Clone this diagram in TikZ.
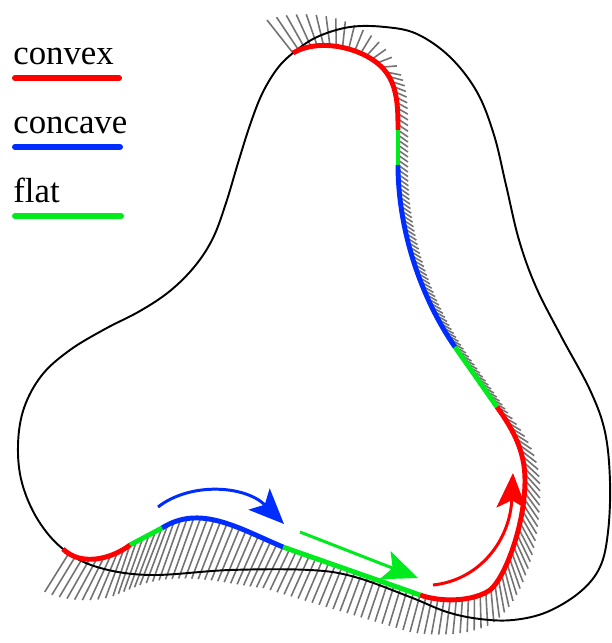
\documentclass[tikz,border=0pt]{standalone}
\usepackage{fontspec}
\setmainfont{Liberation Serif}
\usetikzlibrary{decorations.markings, arrows.meta}

\definecolor{cvx}{RGB}{255,0,0}
\definecolor{ccv}{RGB}{0,45,255}
\definecolor{flt}{RGB}{0,235,30}

\tikzset{
  rim/.style={line width=2.8pt},
  hull/.style={line width=1.1pt},
  hatch/.style={draw=black!55, line width=0.9pt},
  hmark/.style 2 args={decorate, decoration={markings,
      mark=between positions 0 and 1 step #2 with
        {\coordinate (#1-\pgfkeysvalueof{/pgf/decoration/mark info/sequence number});}}},
  legtext/.style={inner sep=0pt, anchor=base west, font=\fontsize{19.8}{23}\selectfont},
  legbar/.style={line width=3.4pt, line cap=round},
  sweep/.style={line width=1.7pt, -{Stealth[length=20pt, width=17pt, inset=4.5pt]}},
}

% boundary pieces: name/colour/curve/hatch ends/strokes
\newcommand\pieces{%
  pa/cvx/{(293,53) .. controls (322,36) and (370,50) .. (386,72)}/{(267,20) .. controls (300,8) and (375,10) .. (401,75)}/16,%
  pb/cvx/{(386,72) .. controls (398,88) and (398,110) .. (398,130)}/{(401,75) .. controls (408,90) and (408,112) .. (408,137)}/11,%
  pc/flt/{(398,130) -- (398,165)}/{(408,137) -- (408,172)}/7,%
  pd/ccv/{(398,165) .. controls (398,230) and (421,298) .. (455,347)}/{(408,172) .. controls (408,236) and (432,303) .. (466,353)}/42,%
  pe/flt/{(455,347) -- (497,407)}/{(466,353) -- (508,413)}/15,%
  pf/cvx/{(497,407) .. controls (512,428) and (525,450) .. (525,480) .. controls (525,525) and (505,578) .. (490,590) .. controls (474,601) and (443,603) .. (420,595)}/{(508,413) .. controls (525,435) and (540,455) .. (540,490) .. controls (540,560) and (515,615) .. (485,627) .. controls (462,636) and (430,636) .. (410,632)}/44,%
  pg/flt/{(420,595) -- (283,547)}/{(410,632) -- (263,588)}/21,%
  ph/ccv/{(283,547) .. controls (238,528) and (200,504) .. (162,528)}/{(263,588) .. controls (230,585) and (185,570) .. (140,585)}/19,%
  pk/flt/{(162,528) -- (130,545)}/{(140,585) -- (113,596)}/5,%
  pm/cvx/{(130,545) .. controls (110,560) and (80,566) .. (63,549)}/{(113,596) .. controls (90,604) and (55,600) .. (38,588)}/10}

\begin{document}
\begin{tikzpicture}[x=0.2mm, y=-0.2mm]
  \useasboundingbox (0,0) rectangle (611,643);

  % hatching on the outer side
  \foreach \nm/\col/\crv/\hend/\cnt in \pieces {
    \pgfmathsetmacro\stp{1/\cnt}
    \path[hmark={\nm i}{\stp}] \crv;
    \path[hmark={\nm o}{\stp}] \hend;
    \foreach \i in {1,...,\cnt} \draw[hatch] (\nm i-\i) -- (\nm o-\i);
  }

  % outer contour
  \draw[hull] plot[smooth cycle, tension=0.6] coordinates {
    (293,53) (317,37) (350,27) (385,27) (417,34) (450,57) (477,92) (494,135)
    (506,185) (519,240) (536,287) (561,336) (590,390) (605,432) (610,482)
    (608,532) (600,567) (580,592) (547,612) (513,620) (480,619) (447,612)
    (410,597) (355,577) (310,570) (230,570) (150,575) (97,567) (63,549)
    (38,520) (22,483) (18,445) (24,408) (42,375) (70,350) (105,329) (140,311)
    (170,291) (195,266) (213,238) (226,203) (238,163) (250,125) (262,94) (277,69)};

  % coloured boundary
  \foreach \nm/\col/\crv/\hend/\cnt in \pieces \draw[rim, draw=\col] \crv;

  % motion arrows
  \draw[sweep, ccv] (158,507) .. controls (190,482) and (245,485) .. (284,524);
  \draw[sweep, flt] (300,532) -- (418,578);
  \draw[sweep, cvx] (433,585) .. controls (480,580) and (510,540) .. (513,473);

  % legend
  \node[legtext] (lcvx) at (13,64) {convex};
  \node[legtext] (lccv) at (13,133) {concave};
  \node[legtext] (lflt) at (13,202) {flat};
  \draw[legbar, cvx] (lcvx.base west) ++(2,14) -- ++(104,0);
  \draw[legbar, ccv] (lccv.base west) ++(2,14) -- ++(105,0);
  \draw[legbar, flt] (lflt.base west) ++(2,14) -- ++(106,0);
\end{tikzpicture}
\end{document}
